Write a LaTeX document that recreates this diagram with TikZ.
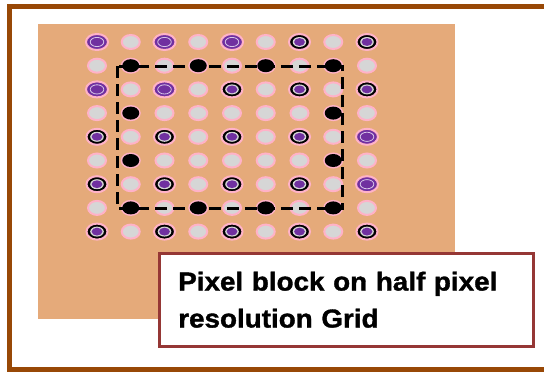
\documentclass[tikz,border=0pt]{standalone}
\usepackage{fontspec}
\setmainfont{Liberation Sans}[FakeStretch=1.07, BoldFeatures={FakeBold=1.3}]
\usepackage{tikz}
\usetikzlibrary{shapes.geometric}
\definecolor{myframe}{RGB}{152,72,6}
\definecolor{myorange}{RGB}{229,170,122}
\definecolor{mypink}{RGB}{255,178,200}
\definecolor{mygray}{RGB}{214,214,214}
\definecolor{mypurple}{RGB}{112,48,160}
\definecolor{mylilac}{RGB}{214,196,232}
\definecolor{myred}{RGB}{149,55,53}
\tikzset{
  gdot/.style={ellipse, draw=mypink, fill=mygray, line width=2pt,
    minimum width=18pt, minimum height=14pt, inner sep=0pt},
  kdot/.style={ellipse, draw=mypink, fill=black, line width=2pt,
    minimum width=21pt, minimum height=16pt, inner sep=0pt,
    path picture={
      \fill[mygray] (path picture bounding box.center) ellipse (6.8pt and 5pt);
      \fill[mypurple] (path picture bounding box.center) ellipse (5.4pt and 3.9pt);}},
  pdot/.style={ellipse, draw=mypink, fill=mypurple, line width=2pt,
    minimum width=22pt, minimum height=16pt, inner sep=0pt,
    path picture={
      \draw[mylilac, line width=0.8pt] (path picture bounding box.center) ellipse (6.8pt and 4.6pt);}},
  pix/.style={#1dot},
  bdot/.style={ellipse, fill=black, minimum width=17pt, minimum height=13pt, inner sep=0pt},
  blockline/.style={black, line width=3pt, dash pattern=on 12pt off 6pt},
  frameline/.style={myframe, line width=5pt, line join=miter},
  caption/.style={rectangle, draw=myred, fill=white, line width=2.5pt,
    minimum width=374pt, minimum height=93pt, text width=336pt, inner xsep=19pt,
    align=left, font=\fontsize{26}{37}\selectfont\bfseries}
}

\begin{document}
\begin{tikzpicture}[x=1pt, y=-1pt]
  \useasboundingbox (0,0) rectangle (544,372);

  % background and frame
  \fill[myorange] (37.5,23.5) rectangle (455,319);
  \draw[frameline] (550,6.5) -- (9.5,6.5) -- (9.5,369.5) -- (550,369.5);

  % pixel grid
  \foreach \row [count=\r from 0] in {
      {p,g,p,g,p,g,k,g,k}, {g,g,g,g,g,g,g,g,g},
      {p,g,p,g,k,g,k,g,k}, {g,g,g,g,g,g,g,g,g},
      {k,g,k,g,k,g,k,g,p}, {g,g,g,g,g,g,g,g,g},
      {k,g,k,g,k,g,k,g,p}, {g,g,g,g,g,g,g,g,g},
      {k,g,k,g,k,g,k,g,k}}
    \foreach \t [count=\c from 0] in \row
      \node[pix=\t] (px-\r-\c) at (97+33.75*\c, 42+23.7*\r) {};

  % pixel block outline
  \coordinate (blk-nw) at (117,66);
  \coordinate (blk-se) at (342,208);
  \draw[blockline] (blk-nw) rectangle (blk-se);

  \foreach \r/\c in {1/1,1/3,1/5,1/7,3/1,3/7,5/1,5/7,7/1,7/3,7/5,7/7}
    \node[bdot] (bk-\r-\c) at (px-\r-\c) {};

  \node[caption, anchor=north west] (note) at (158,252)
    {Pixel block on half pixel\\resolution Grid};
\end{tikzpicture}
\end{document}
